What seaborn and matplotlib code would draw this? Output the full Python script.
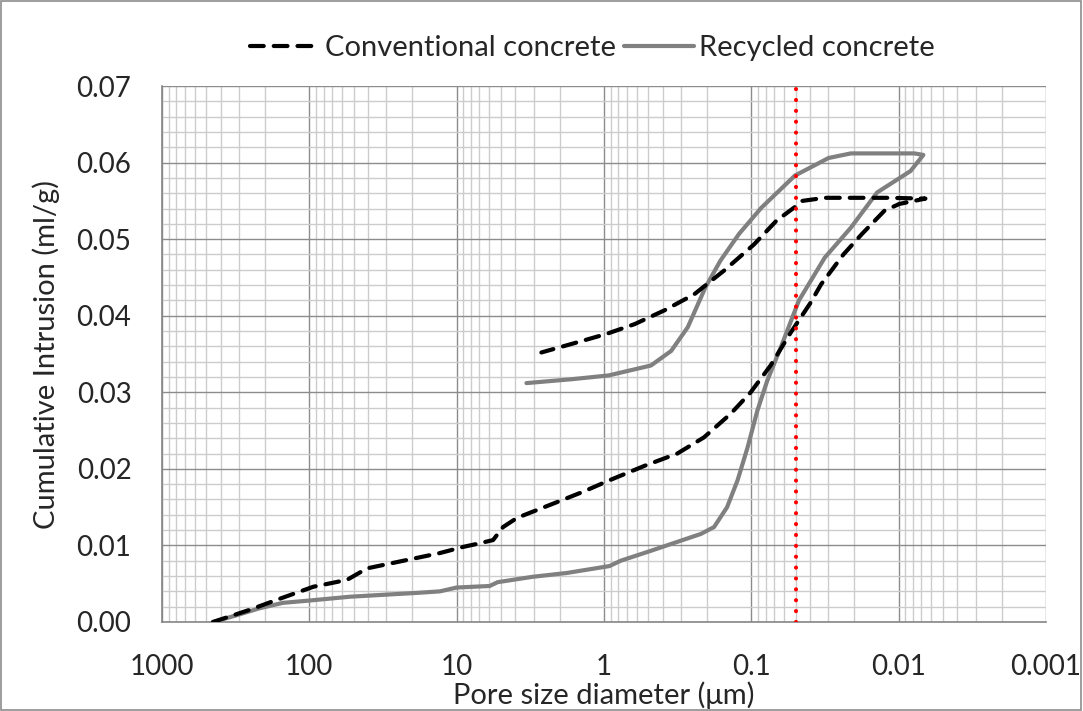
import numpy as np
import pandas as pd
import matplotlib
matplotlib.use("Agg")
import matplotlib.pyplot as plt
import seaborn as sns
from matplotlib.ticker import FixedLocator, FixedFormatter, LogLocator, MultipleLocator, NullFormatter

# Conventional concrete: intrusion (large -> small pores) then extrusion back
conv_d = [451, 253, 166, 94, 55.5, 40.6, 21.7, 13, 9.06, 7.28, 5.66, 4.84, 3.89, 2.32,
          1.39, 0.92, 0.53, 0.318, 0.21, 0.138, 0.101, 0.074, 0.054, 0.0396, 0.0336,
          0.0237, 0.0177, 0.0125, 0.0099, 0.00697, 0.00658,
          0.0118, 0.0317, 0.045, 0.0506, 0.0676, 0.096, 0.153, 0.244, 0.389, 0.62,
          0.97, 1.67, 2.66]
conv_v = [0.0, 0.0016, 0.0029, 0.0046, 0.0055, 0.0070, 0.0081, 0.0090, 0.0098, 0.0102,
          0.0107, 0.0124, 0.0136, 0.0153, 0.0170, 0.0185, 0.0204, 0.0220, 0.0241, 0.0272,
          0.0300, 0.0335, 0.0378, 0.0417, 0.0441, 0.0480, 0.0507, 0.0537, 0.0546, 0.0552,
          0.0553,
          0.0554, 0.0554, 0.0550, 0.0542, 0.0524, 0.0493, 0.0459, 0.0428, 0.0407, 0.0389,
          0.0376, 0.0363, 0.0352]

# Recycled concrete
recy_d = [451, 309, 217, 151, 100, 53, 18.6, 13, 10, 5.97, 5.27, 3.05, 1.79, 0.92, 0.77,
          0.48, 0.22, 0.179, 0.146, 0.124, 0.106, 0.091, 0.078, 0.063, 0.0475, 0.0317,
          0.0211, 0.014, 0.0083, 0.0068,
          0.0078, 0.0211, 0.0299, 0.0506, 0.0855, 0.121, 0.162, 0.205, 0.27, 0.35, 0.48,
          0.93, 1.67, 3.36]
recy_v = [0.0, 0.0009, 0.0018, 0.0025, 0.0028, 0.0033, 0.0038, 0.0040, 0.0045, 0.0047,
          0.0052, 0.0059, 0.0064, 0.0073, 0.0080, 0.0093, 0.0115, 0.0124, 0.0150, 0.0185,
          0.0228, 0.0276, 0.0315, 0.0359, 0.0420, 0.0476, 0.0515, 0.0561, 0.0589, 0.0610,
          0.0612, 0.0612, 0.0606, 0.0583, 0.0541, 0.0507, 0.0472, 0.0437, 0.0385, 0.0354,
          0.0335, 0.0322, 0.0317, 0.0312]

threshold_d = 0.05
x_ticks = [1000, 100, 10, 1, 0.1, 0.01, 0.001]
x_labels = ["1000", "100", "10", "1", "0.1", "0.01", "0.001"]
y_ticks = [0.00, 0.01, 0.02, 0.03, 0.04, 0.05, 0.06, 0.07]

sns.set_style("white")
plt.rcParams['font.family'] = ['Lato', 'DejaVu Sans']

conv = pd.DataFrame({"d": conv_d, "v": conv_v})
recy = pd.DataFrame({"d": recy_d, "v": recy_v})

fig = plt.figure(figsize=(10.83, 7.11), dpi=100)
ax = fig.add_axes([0.1496, 0.1252, 0.8162, 0.7538])

sns.lineplot(data=conv, x="d", y="v", sort=False, estimator=None, ax=ax,
             color="black", linewidth=3.0, label="Conventional concrete", zorder=4)
sns.lineplot(data=recy, x="d", y="v", sort=False, estimator=None, ax=ax,
             color="#808080", linewidth=3.0, label="Recycled concrete", zorder=3)
ax.lines[0].set_dashes((3.3, 2.4))
ax.lines[0].set_dash_capstyle("round")
ax.lines[1].set_solid_capstyle("round")
ax.lines[1].set_solid_joinstyle("round")

ax.axvline(threshold_d, color="red", linewidth=3.0, linestyle=(0, (0.01, 2.6)),
           dash_capstyle="round", zorder=5)

ax.set_xscale("log")
ax.set_xlim(1000, 0.001)
ax.set_ylim(0, 0.07)
ax.xaxis.set_major_locator(FixedLocator(x_ticks))
ax.xaxis.set_major_formatter(FixedFormatter(x_labels))
ax.xaxis.set_minor_locator(LogLocator(base=10, subs=np.arange(2, 10)))
ax.xaxis.set_minor_formatter(NullFormatter())
ax.yaxis.set_major_locator(FixedLocator(y_ticks))
ax.yaxis.set_major_formatter(FixedFormatter([f"{t:.2f}" for t in y_ticks]))
ax.yaxis.set_minor_locator(MultipleLocator(0.002))

ax.grid(which="major", color="#8c8c8c", linewidth=1.0, zorder=0)
ax.grid(which="minor", color="#cccccc", linewidth=1.0, zorder=0)
ax.set_axisbelow(True)

for s in ["top", "right"]:
    ax.spines[s].set_visible(False)
for s in ["left", "bottom"]:
    ax.spines[s].set_color("#868686")
    ax.spines[s].set_linewidth(1.2)

ax.tick_params(axis="x", which="major", direction="out", length=7, width=1,
               color="#868686", labelsize=20, pad=16)
ax.tick_params(axis="y", which="major", direction="out", length=7, width=1,
               color="#868686", labelsize=20, pad=15)
ax.tick_params(which="minor", length=0)

ax.set_xlabel("Pore size diameter (μm)", fontsize=21, labelpad=1)
ax.set_ylabel("Cumulative Intrusion (ml/g)", fontsize=21, labelpad=12)

ax.get_legend().remove()
handles, labels = ax.get_legend_handles_labels()
fig.legend(handles, labels, loc="center", bbox_to_anchor=(0.547, 0.932), ncol=2,
           frameon=False, fontsize=21, handlelength=2.4, columnspacing=0.3,
           handletextpad=0.15)

fig.patches.append(plt.Rectangle((0.001, 0.001), 0.997, 0.997, transform=fig.transFigure,
                                 fill=False, edgecolor="#8c8c8c", linewidth=1.2))

fig.savefig("out.png", dpi=100)
